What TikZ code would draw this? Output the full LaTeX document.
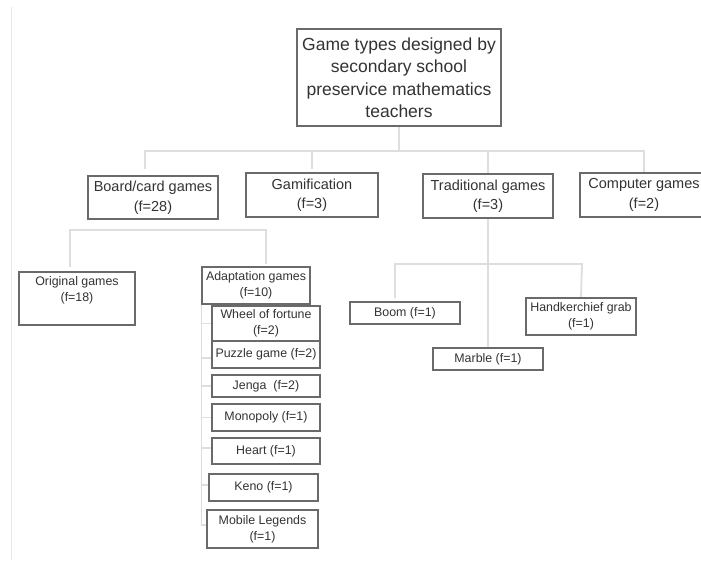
\documentclass[tikz,border=0pt]{standalone}
\usepackage{fontspec}
\setmainfont{Liberation Sans}
\usetikzlibrary{backgrounds}
\definecolor{txt}{HTML}{333333}
\definecolor{edge}{HTML}{6A6A6A}
\definecolor{conncol}{HTML}{DEDEDE}
\tikzset{
  box/.style={draw=edge, line width=1.1pt, fill=white, rectangle, inner sep=1pt, align=center, text=txt},
  lvone/.style={box, font=\fontsize{17.5}{22.5}\selectfont},
  lvtwo/.style={box, font=\fontsize{14.5}{19.5}\selectfont},
  lvthree/.style={box, font=\fontsize{12.4}{16}\selectfont},
  plain3/.style={align=center, text=txt, inner sep=0pt, font=\fontsize{12.4}{16}\selectfont},
  conn/.style={draw=conncol, line width=1.8pt},
  frameline/.style={draw=conncol!70, line width=0.8pt}
}
\begin{document}
\begin{tikzpicture}[x=1pt,y=-1pt]
\clip (0,0) rectangle (701,560);
% level 1
\node[lvone, minimum width=204, minimum height=97] (root) at (399,77.5) {Game types designed by\\secondary school\\preservice mathematics\\teachers};
% level 2
\node[lvtwo, minimum width=130, minimum height=43] (board) at (153,197.5) {Board/card games\\(f=28)};
\node[lvtwo, minimum width=132, minimum height=44] (gami) at (312,195) {Gamification\\(f=3)};
\node[lvtwo, minimum width=130, minimum height=44] (trad) at (488,196) {Traditional games\\(f=3)};
\node[lvtwo, minimum width=128, minimum height=44] (comp) at (644,195) {Computer games\\(f=2)};
% level 3 under board
\node[lvthree, minimum width=116, minimum height=53] (orig) at (77,298.5) {};
\node[plain3] (origtxt) at (77,290.5) {Original games\\(f=18)};
\node[lvthree, minimum width=108, minimum height=37] (adapt) at (256,285.5) {Adaptation games\\(f=10)};
% adaptation children
\node[lvthree, minimum width=108, minimum height=35] (wheel) at (266,323.5) {Wheel of fortune\\(f=2)};
\node[lvthree, minimum width=108, minimum height=27] (puzzle) at (266,354.5) {Puzzle game (f=2)};
\node[lvthree, minimum width=108, minimum height=22] (jenga) at (266,386) {Jenga\ \ (f=2)};
\node[lvthree, minimum width=108, minimum height=27] (mono) at (266,417.5) {Monopoly (f=1)};
\node[lvthree, minimum width=108, minimum height=26] (heart) at (266,451) {Heart (f=1)};
\node[lvthree, minimum width=109, minimum height=27] (keno) at (263.5,487.5) {Keno (f=1)};
\node[lvthree, minimum width=111, minimum height=38] (mobile) at (262.5,529) {Mobile Legends\\(f=1)};
% traditional children
\node[lvthree, minimum width=110, minimum height=22] (boom) at (405,313) {Boom (f=1)};
\node[lvthree, minimum width=110, minimum height=37] (hand) at (581,316.5) {Handkerchief grab\\(f=1)};
\node[lvthree, minimum width=110, minimum height=22] (marble) at (488,359) {Marble (f=1)};
% connector points
\coordinate (bus) at (399,151);
\coordinate (busL) at (145,151);
\coordinate (busR) at (644,151);
\coordinate (boardEnd) at (145,169);
\coordinate (gamiBus) at (312,151);
\coordinate (gamiEnd) at (312,169);
\coordinate (tradBus) at (488,151);
\coordinate (bcL) at (70,230);
\coordinate (bcR) at (266,230);
\coordinate (origEnd) at (70,267);
\coordinate (adaptEnd) at (266,264);
\coordinate (tcL) at (395,264);
\coordinate (tcR) at (582,264);
\coordinate (boomEnd) at (395,298);
\coordinate (acTop) at (201.5,304);
\coordinate (acBot) at (201.5,525);
\coordinate (acPuz) at (201.5,358);
\coordinate (acHeart) at (201.5,448);
\coordinate (acKeno) at (201.5,485);
\coordinate (frameTop) at (11,7);
\coordinate (frameBot) at (11,560);
\begin{scope}[on background layer]
\fill[white] (0,0) rectangle (701,560);
\draw[frameline] (frameTop) -- (frameBot);
\draw[conn] (root.south) -- (bus);
\draw[conn] (boardEnd) -- (busL) -- (busR) -- (comp.north);
\draw[conn] (gamiBus) -- (gamiEnd);
\draw[conn] (tradBus) -- (trad.north);
\draw[conn] (origEnd) -- (bcL) -- (bcR) -- (adaptEnd);
\draw[conn] (trad.south) -- (marble.north);
\draw[conn] (boomEnd) -- (tcL) -- (tcR) -- (hand.north);
\draw[conn] (acTop) -- (acBot) -- (acBot -| mobile.west);
\draw[conn] (acTop |- wheel.west) -- (wheel.west);
\draw[conn] (acPuz) -- (acPuz -| puzzle.west);
\draw[conn] (acTop |- jenga.west) -- (jenga.west);
\draw[conn] (acTop |- mono.west) -- (mono.west);
\draw[conn] (acHeart) -- (acHeart -| heart.west);
\draw[conn] (acKeno) -- (acKeno -| keno.west);
\end{scope}
\end{tikzpicture}
\end{document}
